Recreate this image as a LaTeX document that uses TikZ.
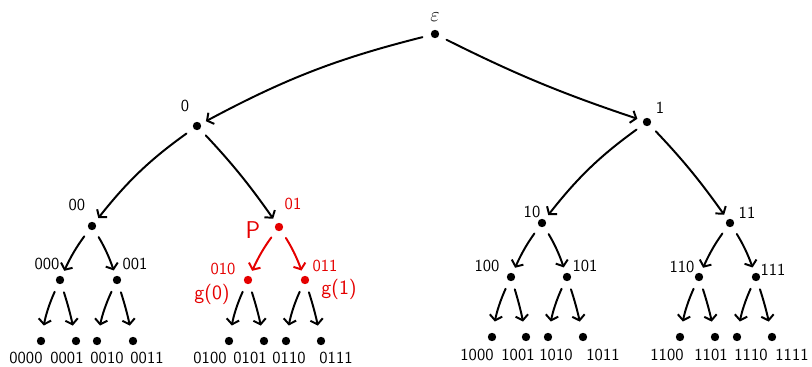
\documentclass[tikz,border=0pt]{standalone}
\usepackage{tikz}
\usetikzlibrary{arrows.meta, positioning, calc}
\colorlet{inkred}{red!90!black}
\tikzset{
  dot/.style={circle, fill=black, inner sep=0pt, minimum size=2.1mm},
  reddot/.style={dot, fill=inkred},
  lab/.style={font=\sffamily\large, inner sep=1pt},
  redlab/.style={lab, text=inkred},
  edge/.style={line width=1.4pt, line cap=round, line join=round,
    -{Straight Barb[length=3.5pt,width=9pt]}, shorten <=6pt, shorten >=4pt},
  rededge/.style={edge, draw=inkred},
  leafedge/.style={edge, shorten <=6pt, shorten >=8pt},
}

\begin{document}
\begin{tikzpicture}[x=0.025cm, y=-0.025cm]
  \useasboundingbox (0,0) rectangle (812,367);

  % root and first two levels
  \node[dot] (r) at (435,34) {};
  \node[dot] (n0) at (197,126) {};
  \node[dot] (n1) at (647,122) {};
  \node[dot] (n00) at (92,226) {};
  \node[reddot] (n01) at (279,227) {};
  \node[dot] (n10) at (542,223) {};
  \node[dot] (n11) at (730,223) {};

  % third level
  \node[dot] (n000) at (60,280) {};
  \node[dot] (n001) at (117,280) {};
  \node[reddot] (n010) at (248,280) {};
  \node[reddot] (n011) at (305,280) {};
  \node[dot] (n100) at (511,277) {};
  \node[dot] (n101) at (567,277) {};
  \node[dot] (n110) at (699,277) {};
  \node[dot] (n111) at (756,277) {};

  % leaves with their labels
  \foreach \nm/\x/\lx in {0000/41/26, 0001/76/67, 0010/97/107, 0011/133/147,
                          0100/229/210, 0101/264/250, 0110/286/289, 0111/321/336} {
    \node[dot] (n\nm) at (\x,341) {};
    \node[lab] (l\nm) at (\lx,358) {\nm};
  }
  \foreach \nm/\x/\lx in {1000/492/477, 1001/526/518, 1010/548/556, 1011/583/603,
                          1100/680/667, 1101/715/711, 1110/737/751, 1111/772/792} {
    \node[dot] (n\nm) at (\x,337) {};
    \node[lab] (l\nm) at (\lx,355) {\nm};
  }

  % inner labels
  \node[lab, font=\Large] (lr) at (435,17) {$\varepsilon$};
  \node[lab] (l0) at (185,106) {0};
  \node[lab] (l1) at (660,108) {1};
  \node[lab] (l00) at (77,205) {00};
  \node[redlab] (l01) at (293,204) {01};
  \node[lab] (l10) at (532,212) {10};
  \node[lab] (l11) at (747,213) {11};
  \node[lab] (l000) at (47,264) {000};
  \node[lab] (l001) at (135,264) {001};
  \node[redlab] (l010) at (223,269) {010};
  \node[redlab] (l011) at (325,266) {011};
  \node[lab] (l100) at (487,266) {100};
  \node[lab] (l101) at (585,266) {101};
  \node[lab] (l110) at (682,267) {110};
  \node[lab] (l111) at (773,270) {111};
  \node[redlab, font=\sffamily\LARGE] (lP) at (253,230) {P};
  \node[redlab, font=\sffamily\Large] (lg0) at (212,294) {g(0)};
  \node[redlab, font=\sffamily\Large] (lg1) at (339,289) {g(1)};

  % edges
  \draw[edge] (r) to[bend right=7] (n0);
  \draw[edge] (r) to[bend right=4] (n1);
  \draw[edge] (n0) to[bend right=8] (n00);
  \draw[edge] (n0) to[bend left=4] (n01);
  \draw[edge] (n1) to[bend right=8] (n10);
  \draw[edge] (n1) to[bend left=4] (n11);
  \foreach \p/\a/\b in {00/000/001, 10/100/101, 11/110/111} {
    \draw[edge] (n\p) to[bend right=6] (n\a);
    \draw[edge] (n\p) to[bend left=6] (n\b);
  }
  \draw[rededge] (n01) to[bend right=6] (n010);
  \draw[rededge] (n01) to[bend left=6] (n011);
  \foreach \p/\a/\b in {000/0000/0001, 001/0010/0011, 010/0100/0101, 011/0110/0111,
                        100/1000/1001, 101/1010/1011, 110/1100/1101, 111/1110/1111} {
    \draw[leafedge] (n\p) to[bend right=7] (n\a);
    \draw[leafedge] (n\p) to[bend left=3] (n\b);
  }
\end{tikzpicture}
\end{document}
